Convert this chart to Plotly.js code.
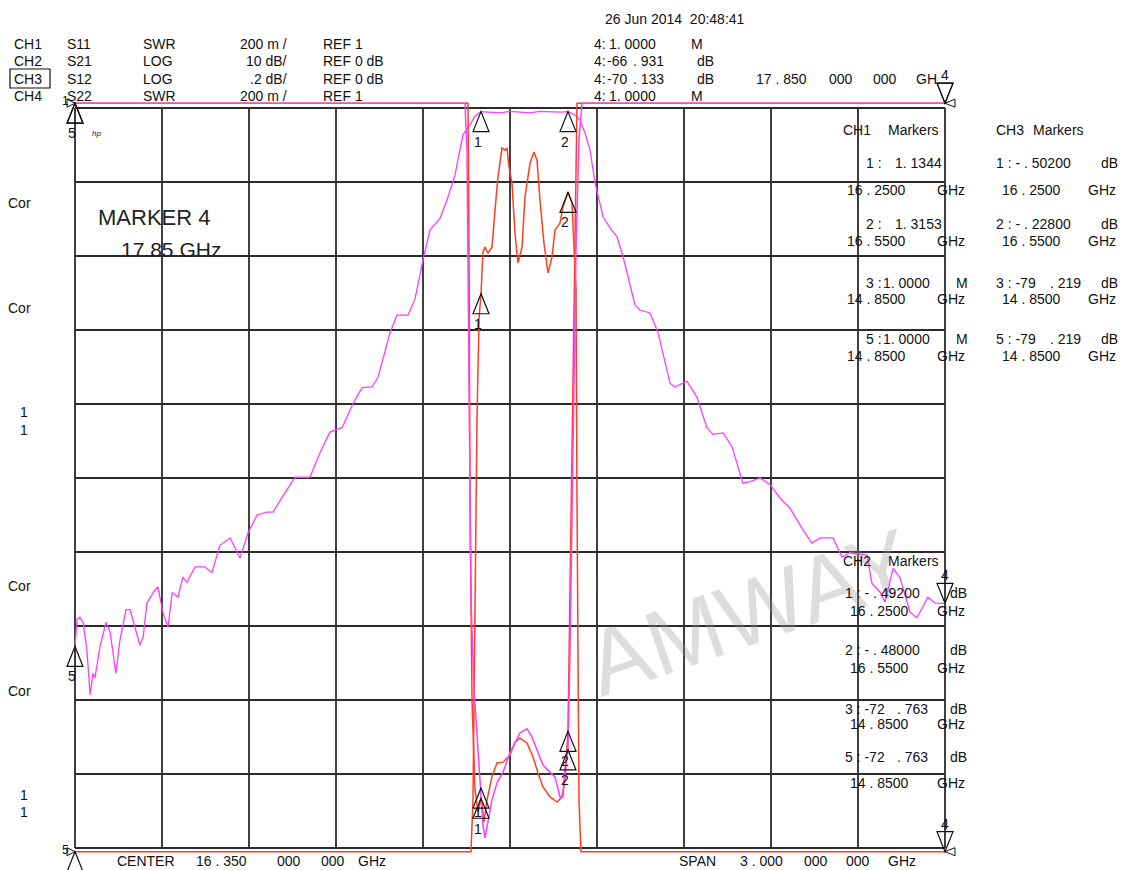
<!DOCTYPE html>
<html>
<head>
<meta charset="utf-8">
<script src="https://cdn.plot.ly/plotly-3.0.1.min.js"></script>
<style>html,body{margin:0;padding:0;background:#fff;overflow:hidden}#chart{width:1123px;height:870px}</style>
</head>
<body>
<div id="chart"></div>
<script>
// ---------- data ----------
const startGHz = 14.85, stopGHz = 17.85;
const xTicks = [14.85,15.15,15.45,15.75,16.05,16.35,16.65,16.95,17.25,17.55,17.85];
const yTicksDb = [0,-10,-20,-30,-40,-50,-60,-70,-80,-90,-100];

// CH2 S21 LOG 10 dB/div
const s21Freq = [14.85,14.857,14.867,14.878,14.891,14.902,14.912,14.919,14.936,14.957,
  14.971,14.991,15.005,15.026,15.040,15.057,15.074,15.085,15.098,15.126,
  15.136,15.153,15.171,15.185,15.205,15.222,15.236,15.264,15.298,15.322,
  15.350,15.385,15.419,15.447,15.478,15.512,15.533,15.574,15.609,15.660,
  15.695,15.729,15.771,15.809,15.840,15.874,15.895,15.936,15.960,15.998,
  16.022,16.050,16.074,16.109,16.133,16.160,16.178,16.188,16.212,16.229,
  16.250,16.281,16.316,16.350,16.385,16.419,16.453,16.488,16.522,16.550,
  16.574,16.591,16.609,16.626,16.643,16.671,16.695,16.719,16.740,16.781,
  16.798,16.833,16.860,16.902,16.919,16.960,16.995,17.029,17.050,17.085,
  17.116,17.153,17.178,17.212,17.247,17.281,17.316,17.357,17.391,17.419,
  17.464,17.495,17.522,17.581,17.598,17.626,17.643,17.671,17.695,17.729,
  17.753,17.771,17.791,17.816,17.85];
const s21Db = [-72.76,-69.1,-68.8,-69.5,-73.2,-79.3,-76.4,-77.0,-72.8,-69.5,
  -70.8,-76.4,-71.9,-67.8,-67.8,-70.1,-72.6,-71.5,-66.9,-65.1,
  -64.7,-68.2,-70.1,-65.5,-66.1,-63.4,-64.1,-62.0,-62.0,-62.8,
  -59.1,-58.1,-60.8,-57.4,-55.0,-54.6,-54.6,-52.0,-49.9,-49.9,
  -46.6,-43.8,-43.2,-39.9,-37.8,-37.7,-36.4,-30.4,-28.0,-28.0,
  -25.9,-20.5,-16.5,-14.9,-12.4,-9.1,-5.7,-3.6,-2.3,-1.1,
  -0.492,-0.55,-0.65,-0.45,-0.55,-0.65,-0.45,-0.5,-0.55,-0.48,
  -0.95,-1.6,-3.4,-5.7,-10.1,-14.7,-16.2,-17.4,-20.1,-26.6,
  -27.3,-27.7,-30.3,-37.2,-37.7,-36.9,-39.1,-43.2,-44.1,-43.9,
  -45.8,-50.7,-50.5,-50.0,-50.9,-52.7,-54.1,-56.8,-58.8,-58.1,
  -58.1,-60.7,-60.1,-60.4,-64.2,-65.4,-66.8,-62.2,-63.5,-68.1,
  -68.9,-67.6,-66.1,-66.9,-66.931];

// CH3 S12 LOG .2 dB/div (off-scale values shown clamped at the bottom)
const s12Freq = [14.85,16.2155,16.2224,16.2293,16.2362,16.2431,16.25,16.2569,16.2638,16.2741,
  16.2879,16.2983,16.3086,16.3224,16.3328,16.3397,16.3466,16.3569,16.3672,16.3776,
  16.3914,16.4017,16.419,16.4328,16.4431,16.4534,16.4672,16.481,16.4948,16.5052,
  16.5224,16.5328,16.55,16.5638,16.5707,16.5776,16.581,16.5879,16.5948,17.85];
const s12Db = [-2.01,-2.01,-1.87,-1.33,-0.84,-0.57,-0.502,-0.389,-0.376,-0.392,
  -0.376,-0.276,-0.186,-0.108,-0.114,-0.108,-0.159,-0.203,-0.338,-0.419,
  -0.376,-0.241,-0.149,-0.119,-0.141,-0.249,-0.365,-0.446,-0.403,-0.330,
  -0.311,-0.268,-0.228,-0.257,-0.357,-0.492,-1.06,-1.87,-2.01,-2.01];

// CH1 S11 SWR 200 m/div (off-scale values shown clamped at the top)
const s11Freq = [14.85,16.2052,16.2086,16.2121,16.219,16.2293,16.2397,16.25,16.2603,16.2707,
  16.2879,16.3052,16.3259,16.35,16.3672,16.3845,16.4086,16.4293,16.4466,16.4638,
  16.4879,16.5121,16.5293,16.5397,16.55,16.5569,16.5672,16.5741,16.581,17.85];
const s11Swr = [3.013,3.013,2.62,1.94,1.40,1.157,1.097,1.1344,1.07,1.13,
  1.192,1.23,1.232,1.251,1.286,1.297,1.284,1.246,1.203,1.165,
  1.138,1.124,1.138,1.184,1.3153,1.670,2.211,2.616,3.013,3.013];

// CH4 S22 SWR 200 m/div
const s22Freq = [14.85,16.1948,16.2017,16.2086,16.2155,16.2259,16.2397,16.25,16.2569,16.2638,
  16.2741,16.2879,16.3052,16.3259,16.35,16.3672,16.3845,16.4086,16.4259,16.4431,
  16.4638,16.4879,16.5052,16.5224,16.5328,16.5397,16.55,16.5569,16.5672,16.5776,
  16.5879,16.5983,17.85];
const s22Swr = [3.013,3.013,2.886,2.211,1.670,1.427,1.265,1.162,1.062,1.027,
  1.068,1.130,1.176,1.205,1.257,1.284,1.311,1.322,1.300,1.265,
  1.224,1.205,1.192,1.138,1.138,1.219,1.265,1.535,2.076,2.616,
  2.914,3.013,3.013];

// markers (marker 4 is the active one)
const markerFreq = [14.85, 16.25, 16.55, 17.85];
const markerLabel = ['5','1','2','4'];
const ch1MarkerVal = [1e6, 1.1344, 1.3153, 1e6];
const ch2MarkerVal = [-72.763, -0.492, -0.48, -66.931];
const ch3MarkerVal = [-79.219, -0.502, -0.228, -70.133];
const ch4MarkerVal = [1e6, 1.162, 1.265, 1e6];

// ---------- page geometry / styling ----------
const W = 1123, H = 870;
const gL = 75, gR = 945, gT = 108, gB = 848;
const pxPerGHz = (gR - gL) / (stopGHz - startGHz);
const pxPerDiv = (gB - gT) / 10;
const FONT = 'Liberation Sans, Arial, sans-serif';
const MAG = '#ff3cff', RED = '#ff3f1f', GRID = '#2b2b2b';
const swrMax = 3.013, s12Min = -2.01;

function span(top, perDiv) { // range covering the whole page
  const perPx = perDiv / pxPerDiv;
  return [top - (H - gT) * perPx, top + gT * perPx];
}
const xRange = [startGHz - gL / pxPerGHz, startGHz + (W - gL) / pxPerGHz];
const yRange = span(0, 10);
const y2Range = span(0, 0.2);
const y3Range = (function(){ const perPx = 0.2/pxPerDiv; return [1 - (H-gB)*perPx, 1 + gB*perPx]; })();

const shapes = [];
const annotations = [];

// grid
xTicks.forEach(f => shapes.push({type:'line', xref:'x', yref:'y', x0:f, x1:f, y0:yTicksDb[yTicksDb.length-1], y1:yTicksDb[0], layer:'below', line:{color:GRID, width:1.8}}));
yTicksDb.forEach(v => shapes.push({type:'line', xref:'x', yref:'y', x0:xTicks[0], x1:xTicks[xTicks.length-1], y0:v, y1:v, layer:'below', line:{color:GRID, width:1.8}}));

function T(text, x, y, o) {
  o = o || {};
  annotations.push({xref:'paper', yref:'paper', x:x/W, y:1-y/H, text:text.replace(/ /g,'\u00a0'),
    showarrow:false, xanchor:o.a||'left', yanchor:'middle', borderpad:0, borderwidth:0,
    textangle:o.r||0, font:{family:FONT, size:o.s||14, color:o.c||'#111'}});
}

// watermark first (under other text)
T('AMWAY', 750, 612, {a:'center', s:92, c:'rgba(150,150,150,0.32)', r:-19});

// markers
const placedLabels = new Set();
function addMarkers(vals, yref, clampFn, bottomClamped, gap1) {
  markerFreq.forEach((f, i) => {
    const v = clampFn(vals[i]);
    const down = markerLabel[i] === '4';
    shapes.push({type:'path', xref:'x', yref:yref, xsizemode:'pixel', ysizemode:'pixel', xanchor:f, yanchor:v,
      path: down ? 'M0,0L-8,20L8,20Z' : 'M0,0L-8,-20L8,-20Z',
      line:{color:'#111', width:1.2}, fillcolor:'rgba(0,0,0,0)'});
    // a label under a triangle that sits on the bottom edge falls off the screen
    if (!down && bottomClamped && v !== vals[i]) return;
    const key = yref + ':' + f + ':' + v;
    if (placedLabels.has(key)) return; // same spot as another channel's label
    placedLabels.add(key);
    const gap = markerLabel[i] === '1' ? gap1 : 30;
    annotations.push({xref:'x', yref:yref, x:f, y:v, yshift: down ? 28 : -gap, xshift: down ? 0 : -3,
      text:markerLabel[i], showarrow:false, borderpad:0, borderwidth:0, font:{family:FONT, size:14, color:'#111'}});
  });
}
const clampSwr = v => Math.min(v, swrMax);
const clampS12 = v => Math.max(v, s12Min);
addMarkers(ch1MarkerVal, 'y3', clampSwr, false, 31);
addMarkers(ch4MarkerVal, 'y3', clampSwr, false, 24);
addMarkers(ch3MarkerVal, 'y2', clampS12, true, 30);
addMarkers(ch2MarkerVal, 'y', v => v, false, 30);

// reference-position pointers
shapes.push({type:'path', xref:'x', yref:'y3', xsizemode:'pixel', ysizemode:'pixel', xanchor:stopGHz, yanchor:swrMax, path:'M0,0L10,4L10,-4Z', line:{color:'#111', width:1}, fillcolor:'rgba(0,0,0,0)'});
shapes.push({type:'path', xref:'x', yref:'y2', xsizemode:'pixel', ysizemode:'pixel', xanchor:stopGHz, yanchor:s12Min, path:'M0,0L10,4L10,-4Z', line:{color:'#111', width:1}, fillcolor:'rgba(0,0,0,0)'});
shapes.push({type:'path', xref:'x', yref:'y3', xsizemode:'pixel', ysizemode:'pixel', xanchor:startGHz, yanchor:swrMax, path:'M0,0L-8,4L-8,-4Z', line:{color:'#111', width:1}, fillcolor:'rgba(0,0,0,0)'});
shapes.push({type:'path', xref:'x', yref:'y2', xsizemode:'pixel', ysizemode:'pixel', xanchor:startGHz, yanchor:s12Min, path:'M0,0L-8,4L-8,-4Z', line:{color:'#111', width:1}, fillcolor:'rgba(0,0,0,0)'});

// ---------- texts ----------
// header left
[['CH1','S11','SWR','200 m /','REF 1',44],['CH2','S21','LOG','10 dB/','REF 0 dB',61],
 ['CH3','S12','LOG','.2 dB/','REF 0 dB',79],['CH4','S22','SWR','200 m /','REF 1',96]].forEach(r => {
  T(r[0],14,r[5]); T(r[1],67,r[5]); T(r[2],143,r[5]); T(r[3],287,r[5],{a:'right'}); T(r[4],323,r[5]);
});
shapes.push({type:'rect', xref:'paper', yref:'paper', x0:10/W, x1:50/W, y0:1-88/H, y1:1-69/H, line:{color:'#111', width:1.2}});

// header right
T('26 Jun 2014  20:48:41', 605, 19);
T('4:',594,44); T('1. 0000',609,44); T('M',691,44);
T('4:',594,61); T('-66',607,61); T('. 931',633,61); T('dB',697,61);
T('4:',594,79); T('-70',607,79); T('. 133',633,79); T('dB',697,79);
T('17 . 850',756,79); T('000',829,79); T('000',873,79); T('GH',916,79);
T('4:',594,96); T('1. 0000',609,96); T('M',691,96);

// CH1 markers panel
T('CH1',843,130); T('Markers',888,130);
T('1 :',866,163); T('1. 1344',942,163,{a:'right'});
T('16 . 2500',847,190); T('GHz',937,190);
T('2 :',866,224); T('1. 3153',942,224,{a:'right'});
T('16 . 5500',847,241); T('GHz',937,241);
T('3 :',866,283); T('1. 0000',930,283,{a:'right'}); T('M',956,283);
T('14 . 8500',847,299); T('GHz',937,299);
T('5 :',866,339); T('1. 0000',930,339,{a:'right'}); T('M',956,339);
T('14 . 8500',847,356); T('GHz',937,356);

// CH3 markers panel
T('CH3',996,130); T('Markers',1033,130);
T('1 : - . 50200',996,163); T('dB',1101,163);
T('16 . 2500',1002,190); T('GHz',1088,190);
T('2 : - . 22800',996,224); T('dB',1101,224);
T('16 . 5500',1002,241); T('GHz',1088,241);
T('3 : -79',996,283); T('. 219',1050,283); T('dB',1101,283);
T('14 . 8500',1002,299); T('GHz',1088,299);
T('5 : -79',996,339); T('. 219',1050,339); T('dB',1101,339);
T('14 . 8500',1002,356); T('GHz',1088,356);

// CH2 markers panel
T('CH2',843,561); T('Markers',888,561);
T('1 : - . 49200',845,593); T('dB',950,593);
T('16 . 2500',850,611); T('GHz',937,611);
T('2 : - . 48000',845,650); T('dB',950,650);
T('16 . 5500',850,668); T('GHz',937,668);
T('3 : -72',845,709); T('. 763',897,709); T('dB',950,709);
T('14 . 8500',850,724); T('GHz',937,724);
T('5 : -72',845,757); T('. 763',897,757); T('dB',950,757);
T('14 . 8500',850,783); T('GHz',937,783);

// left column labels
T('Cor',8,203); T('Cor',8,308); T('Cor',8,586); T('Cor',8,691);
T('1',20,412); T('1',20,430); T('1',20,795); T('1',20,812);
T('1',62,101,{s:12}); T('5',62,850,{s:12});
T('<i>hp</i>',92,133,{s:8});

// marker 4 box
T('MARKER 4',98,218,{s:22, c:'#222'});
T('17.85 GHz',121,250,{s:21, c:'#222'});

// bottom
T('CENTER',117,861); T('16 . 350',196,861); T('000',277,861); T('000',321,861); T('GHz',358,861);
T('SPAN',679,861); T('3 . 000',740,861); T('000',804,861); T('000',846,861); T('GHz',888,861);

// ---------- traces ----------
const traces = [
  {x:s11Freq, y:s11Swr.map(clampSwr), yaxis:'y3', mode:'lines', line:{color:RED, width:1.5}, hoverinfo:'skip'},
  {x:s12Freq, y:s12Db.map(clampS12), yaxis:'y2', mode:'lines', line:{color:RED, width:1.5}, hoverinfo:'skip'},
  {x:s22Freq, y:s22Swr.map(clampSwr), yaxis:'y3', mode:'lines', line:{color:MAG, width:1.5}, hoverinfo:'skip'},
  {x:s21Freq, y:s21Db, yaxis:'y', mode:'lines', line:{color:MAG, width:1.3}, hoverinfo:'skip'}
];

const layout = {
  width:W, height:H, autosize:false, showlegend:false,
  margin:{l:0, r:0, t:0, b:0, pad:0},
  paper_bgcolor:'#fff', plot_bgcolor:'#fff',
  xaxis:{range:xRange, visible:false, fixedrange:true},
  yaxis:{range:yRange, visible:false, fixedrange:true},
  yaxis2:{range:y2Range, visible:false, overlaying:'y', fixedrange:true},
  yaxis3:{range:y3Range, visible:false, overlaying:'y', fixedrange:true},
  shapes:shapes, annotations:annotations
};

Plotly.newPlot('chart', traces, layout, {staticPlot:true, displayModeBar:false});
</script>
</body>
</html>
